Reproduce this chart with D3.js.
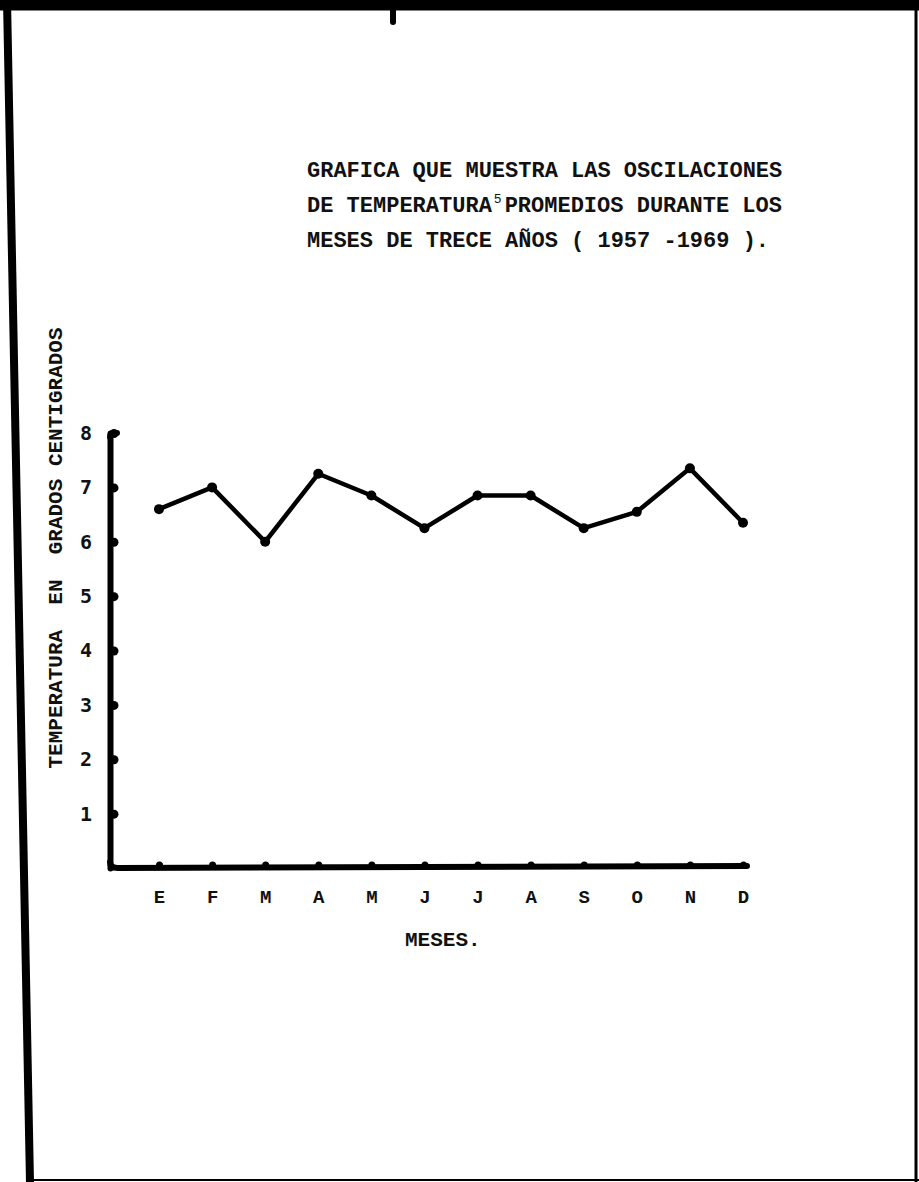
<!DOCTYPE html>
<html>
<head>
<meta charset="utf-8">
<script src="https://cdn.jsdelivr.net/npm/d3@7"></script>
<style>
  html, body { margin: 0; padding: 0; background: #fff; }
  svg { display: block; }
</style>
</head>
<body>
<script>
// Temperatura promedio mensual 1957-1969 (grados centigrados)
var months = ["E", "F", "M", "A", "M", "J", "J", "A", "S", "O", "N", "D"];
var temps = [6.6, 7.0, 6.0, 7.25, 6.85, 6.25, 6.85, 6.85, 6.25, 6.55, 7.35, 6.35];
var yTicks = [1, 2, 3, 4, 5, 6, 7, 8];
var titleLines = [
    "GRAFICA QUE MUESTRA LAS OSCILACIONES",
    "DE TEMPERATURA",
    "MESES DE TRECE AÑOS ( 1957 -1969 )."
];
var yLabel = "TEMPERATURA  EN  GRADOS CENTIGRADOS";
var xLabel = "MESES.";

var width = 919,
    height = 1182;

var svg = d3.select(document.body).append("svg")
    .attr("width", width)
    .attr("height", height);

svg.append("rect")
    .attr("width", width)
    .attr("height", height)
    .attr("fill", "#fff");

// marco de la hoja escaneada
var frame = svg.append("g").attr("fill", "none").attr("stroke", "#000");
frame.append("path")
    .attr("d", "M0,5 L919,5")
    .attr("stroke-width", 11);
frame.append("path")
    .attr("d", "M393,8 L393,22")
    .attr("stroke-width", 6)
    .attr("stroke-linecap", "round");
frame.append("path")
    .attr("d", "M7,0 L30,1182")
    .attr("stroke-width", 8);
frame.append("path")
    .attr("d", "M916,0 L916,1182")
    .attr("stroke-width", 3);
frame.append("path")
    .attr("d", "M30,1180 L919,1180")
    .attr("stroke-width", 2);

var axisX = 110;

var x = d3.scalePoint()
    .domain(d3.range(months.length))
    .range([159, 743]);

var y = d3.scaleLinear()
    .domain([0, 8])
    .range([868, 433]);

var typeFont = "'Liberation Mono', 'DejaVu Sans Mono', monospace";

// titulo
var title = svg.append("g")
    .attr("font-family", typeFont)
    .attr("font-weight", "bold")
    .attr("font-size", 22)
    .attr("fill", "#111");

title.selectAll("text")
    .data(titleLines)
    .join("text")
    .attr("x", 307)
    .attr("y", (d, i) => 177 + i * 35)
    .each(function(d, i) {
        var t = d3.select(this);
        t.append("tspan").text(d);
        if (i === 1) {
            t.append("tspan")
                .attr("font-size", 13)
                .attr("font-weight", "normal")
                .attr("dx", 2)
                .attr("dy", -9)
                .text("5");
            t.append("tspan")
                .attr("dx", 3)
                .attr("dy", 9)
                .text("PROMEDIOS DURANTE LOS");
        }
    });

// eje Y
var yAxis = svg.append("g")
    .attr("transform", "translate(" + axisX + ",0)")
    .call(d3.axisLeft(y).tickValues(yTicks).tickSize(0).tickSizeOuter(0).tickPadding(18));

yAxis.select(".domain")
    .attr("stroke", "#000")
    .attr("stroke-width", 6)
    .attr("stroke-linecap", "round");

yAxis.selectAll(".tick text")
    .attr("font-family", "'DejaVu Sans Mono', monospace")
    .attr("font-weight", "bold")
    .attr("font-size", 20)
    .attr("fill", "#111");

yAxis.selectAll(".tick")
    .append("circle")
    .attr("cx", 4)
    .attr("r", 4.5)
    .attr("fill", "#000");

// gancho superior del eje
svg.append("path")
    .attr("d", "M" + axisX + "," + (y(8) + 4) + " Q" + axisX + "," + y(8) + " " + (axisX + 7) + "," + y(8))
    .attr("fill", "none")
    .attr("stroke", "#000")
    .attr("stroke-width", 6)
    .attr("stroke-linecap", "round");

// eje X
var xAxis = svg.append("g")
    .attr("transform", "translate(0," + y(0) + ")")
    .call(d3.axisBottom(x).tickFormat((i) => months[i]).tickSize(0).tickSizeOuter(0).tickPadding(22));

xAxis.select(".domain").remove();

xAxis.selectAll(".tick text")
    .attr("font-family", typeFont)
    .attr("font-weight", "bold")
    .attr("font-size", 19)
    .attr("fill", "#111");

xAxis.selectAll(".tick")
    .append("circle")
    .attr("cy", -3)
    .attr("r", 3.5)
    .attr("fill", "#000");

svg.append("path")
    .attr("d", "M" + axisX + "," + (y(0) - 6) + " Q" + axisX + "," + y(0) + " " + (axisX + 8) + "," + y(0) +
        " L" + (x(months.length - 1) + 4) + "," + (y(0) - 2))
    .attr("fill", "none")
    .attr("stroke", "#000")
    .attr("stroke-width", 6)
    .attr("stroke-linecap", "round");

// titulo eje Y
svg.append("text")
    .attr("transform", "translate(62,548) rotate(-90)")
    .attr("text-anchor", "middle")
    .attr("font-family", typeFont)
    .attr("font-weight", "bold")
    .attr("font-size", 21)
    .attr("fill", "#111")
    .attr("xml:space", "preserve")
    .style("white-space", "pre")
    .text(yLabel);

// titulo eje X
svg.append("text")
    .attr("x", 405)
    .attr("y", 946)
    .attr("font-family", typeFont)
    .attr("font-weight", "bold")
    .attr("font-size", 21)
    .attr("fill", "#111")
    .text(xLabel);

// serie de temperaturas
var line = d3.line()
    .x((d, i) => x(i))
    .y((d) => y(d));

svg.append("path")
    .datum(temps)
    .attr("d", line)
    .attr("fill", "none")
    .attr("stroke", "#000")
    .attr("stroke-width", 4.5)
    .attr("stroke-linejoin", "round");

svg.append("g")
    .selectAll("circle")
    .data(temps)
    .join("circle")
    .attr("cx", (d, i) => x(i))
    .attr("cy", (d) => y(d))
    .attr("r", 5)
    .attr("fill", "#000");
</script>
</body>
</html>
